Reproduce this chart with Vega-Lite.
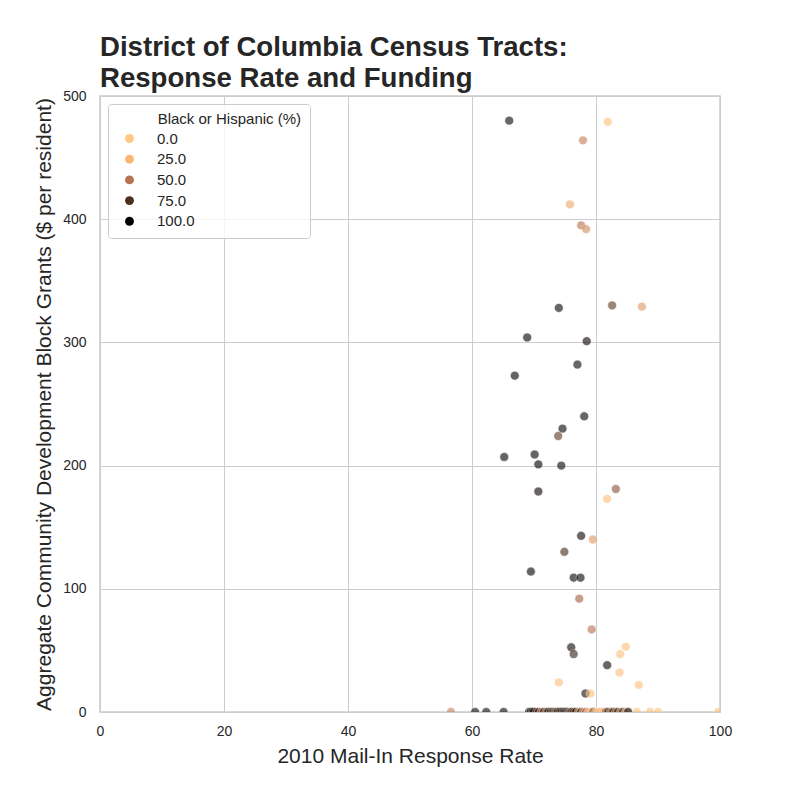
{
  "$schema": "https://vega.github.io/schema/vega-lite/v6.json",
  "width": 620,
  "height": 616,
  "autosize": "none",
  "padding": {"left": 100, "top": 96, "right": 80, "bottom": 88},
  "background": "white",
  "title": {
    "text": ["District of Columbia Census Tracts:", "Response Rate and Funding"],
    "anchor": "start",
    "frame": "group",
    "font": "Liberation Sans",
    "fontSize": 27.6,
    "fontWeight": "bold",
    "color": "#262626",
    "lineHeight": 31,
    "baseline": "bottom",
    "offset": 4,
    "dy": 36
  },
  "config": {
    "font": "Liberation Sans",
    "view": {"stroke": "#cccccc", "strokeWidth": 1.5},
    "axis": {
      "grid": true,
      "gridColor": "#cccccc",
      "gridWidth": 1,
      "domain": false,
      "ticks": false,
      "labelFont": "Liberation Sans",
      "labelFontSize": 14,
      "labelColor": "#262626",
      "labelFlush": false,
      "titleFont": "Liberation Sans",
      "titleFontSize": 21,
      "titleFontWeight": "normal",
      "titleColor": "#262626"
    }
  },
  "data": {
    "values": [
      {"rate": 66.0, "cdbg": 480, "bh": 95},
      {"rate": 81.9, "cdbg": 479, "bh": 10},
      {"rate": 77.9, "cdbg": 464, "bh": 45},
      {"rate": 75.8, "cdbg": 412, "bh": 30},
      {"rate": 77.6, "cdbg": 395, "bh": 50},
      {"rate": 78.4, "cdbg": 392, "bh": 40},
      {"rate": 74.0, "cdbg": 328, "bh": 95},
      {"rate": 82.6, "cdbg": 330, "bh": 70},
      {"rate": 87.4, "cdbg": 329, "bh": 35},
      {"rate": 68.9, "cdbg": 304, "bh": 97},
      {"rate": 78.5, "cdbg": 301, "bh": 95},
      {"rate": 77.0, "cdbg": 282, "bh": 95},
      {"rate": 66.9, "cdbg": 273, "bh": 96},
      {"rate": 78.1, "cdbg": 240, "bh": 95},
      {"rate": 74.6, "cdbg": 230, "bh": 95},
      {"rate": 73.9, "cdbg": 224, "bh": 70},
      {"rate": 65.2, "cdbg": 207, "bh": 97},
      {"rate": 70.1, "cdbg": 209, "bh": 96},
      {"rate": 70.7, "cdbg": 201, "bh": 97},
      {"rate": 74.4, "cdbg": 200, "bh": 95},
      {"rate": 83.2, "cdbg": 181, "bh": 60},
      {"rate": 81.8, "cdbg": 173, "bh": 10},
      {"rate": 70.7, "cdbg": 179, "bh": 96},
      {"rate": 77.6, "cdbg": 143, "bh": 95},
      {"rate": 79.5, "cdbg": 140, "bh": 35},
      {"rate": 74.9, "cdbg": 130, "bh": 75},
      {"rate": 69.5, "cdbg": 114, "bh": 97},
      {"rate": 76.4, "cdbg": 109, "bh": 95},
      {"rate": 77.5, "cdbg": 109, "bh": 95},
      {"rate": 77.3, "cdbg": 92, "bh": 55},
      {"rate": 79.3, "cdbg": 67, "bh": 50},
      {"rate": 76.0, "cdbg": 52.5, "bh": 95},
      {"rate": 76.4, "cdbg": 47, "bh": 80},
      {"rate": 84.8, "cdbg": 53, "bh": 12},
      {"rate": 83.9, "cdbg": 47, "bh": 10},
      {"rate": 81.8, "cdbg": 38, "bh": 95},
      {"rate": 83.8, "cdbg": 32, "bh": 12},
      {"rate": 74.0, "cdbg": 24, "bh": 10},
      {"rate": 86.9, "cdbg": 22, "bh": 12},
      {"rate": 78.3, "cdbg": 15, "bh": 90},
      {"rate": 79.1, "cdbg": 15, "bh": 15},
      {"rate": 56.6, "cdbg": 0, "bh": 45},
      {"rate": 60.5, "cdbg": 0, "bh": 95},
      {"rate": 62.3, "cdbg": 0, "bh": 95},
      {"rate": 65.1, "cdbg": 0, "bh": 95},
      {"rate": 69.2, "cdbg": 0, "bh": 99},
      {"rate": 69.5, "cdbg": 0, "bh": 97},
      {"rate": 69.8, "cdbg": 0, "bh": 98},
      {"rate": 70.0, "cdbg": 0, "bh": 95},
      {"rate": 70.4, "cdbg": 0, "bh": 60},
      {"rate": 70.8, "cdbg": 0, "bh": 90},
      {"rate": 71.2, "cdbg": 0, "bh": 40},
      {"rate": 71.6, "cdbg": 0, "bh": 96},
      {"rate": 72.0, "cdbg": 0, "bh": 50},
      {"rate": 72.3, "cdbg": 0, "bh": 92},
      {"rate": 72.7, "cdbg": 0, "bh": 80},
      {"rate": 73.0, "cdbg": 0, "bh": 96},
      {"rate": 73.2, "cdbg": 0, "bh": 97},
      {"rate": 73.4, "cdbg": 0, "bh": 40},
      {"rate": 73.8, "cdbg": 0, "bh": 98},
      {"rate": 74.1, "cdbg": 0, "bh": 95},
      {"rate": 74.3, "cdbg": 0, "bh": 96},
      {"rate": 74.5, "cdbg": 0, "bh": 70},
      {"rate": 74.8, "cdbg": 0, "bh": 99},
      {"rate": 75.0, "cdbg": 0, "bh": 98},
      {"rate": 75.2, "cdbg": 0, "bh": 96},
      {"rate": 75.4, "cdbg": 0, "bh": 90},
      {"rate": 75.6, "cdbg": 0, "bh": 45},
      {"rate": 76.0, "cdbg": 0, "bh": 92},
      {"rate": 76.2, "cdbg": 0, "bh": 95},
      {"rate": 76.4, "cdbg": 0, "bh": 60},
      {"rate": 76.8, "cdbg": 0, "bh": 98},
      {"rate": 77.2, "cdbg": 0, "bh": 30},
      {"rate": 77.6, "cdbg": 0, "bh": 85},
      {"rate": 78.0, "cdbg": 0, "bh": 35},
      {"rate": 78.4, "cdbg": 0, "bh": 55},
      {"rate": 78.8, "cdbg": 0, "bh": 25},
      {"rate": 79.2, "cdbg": 0, "bh": 20},
      {"rate": 79.6, "cdbg": 0, "bh": 70},
      {"rate": 80.0, "cdbg": 0, "bh": 15},
      {"rate": 80.4, "cdbg": 0, "bh": 10},
      {"rate": 80.8, "cdbg": 0, "bh": 30},
      {"rate": 81.2, "cdbg": 0, "bh": 12},
      {"rate": 81.6, "cdbg": 0, "bh": 60},
      {"rate": 82.0, "cdbg": 0, "bh": 90},
      {"rate": 82.4, "cdbg": 0, "bh": 40},
      {"rate": 82.8, "cdbg": 0, "bh": 95},
      {"rate": 83.2, "cdbg": 0, "bh": 50},
      {"rate": 83.6, "cdbg": 0, "bh": 92},
      {"rate": 84.0, "cdbg": 0, "bh": 35},
      {"rate": 84.4, "cdbg": 0, "bh": 94},
      {"rate": 84.8, "cdbg": 0, "bh": 10},
      {"rate": 85.2, "cdbg": 0, "bh": 96},
      {"rate": 86.6, "cdbg": 0, "bh": 8},
      {"rate": 88.7, "cdbg": 0, "bh": 10},
      {"rate": 90.0, "cdbg": 0, "bh": 8},
      {"rate": 99.7, "cdbg": 0, "bh": 8}
    ]
  },
  "mark": {"type": "circle", "size": 80, "opacity": 0.62, "stroke": "white", "strokeWidth": 0.6, "clip": true},
  "encoding": {
    "x": {
      "field": "rate",
      "type": "quantitative",
      "title": "2010 Mail-In Response Rate",
      "scale": {"domain": [0, 100], "nice": false, "zero": false},
      "axis": {"values": [0, 20, 40, 60, 80, 100], "labelPadding": 12, "titlePadding": 7}
    },
    "y": {
      "field": "cdbg",
      "type": "quantitative",
      "title": "Aggregate Community Development Block Grants ($ per resident)",
      "scale": {"domain": [0, 500], "nice": false},
      "axis": {"values": [0, 100, 200, 300, 400, 500], "labelPadding": 14, "titlePadding": 8}
    },
    "color": {
      "field": "bh",
      "type": "quantitative",
      "title": "\u200b\u00a0\u00a0\u00a0\u00a0\u00a0\u00a0\u00a0\u00a0\u00a0\u00a0Black or Hispanic (%)",
      "scale": {
        "domain": [0, 25, 50, 75, 100],
        "range": ["#ffc981", "#fbb676", "#b87350", "#4b2e1e", "#000000"],
        "interpolate": "rgb"
      },
      "legend": {
        "type": "symbol",
        "values": [0, 25, 50, 75, 100],
        "format": ".1f",
        "orient": "none",
        "legendX": 8,
        "legendY": 8,
        "padding": 8,
        "fillColor": "rgba(255,255,255,0.8)",
        "strokeColor": "#cccccc",
        "cornerRadius": 3,
        "symbolType": "circle",
        "symbolSize": 80,
        "symbolOpacity": 1,
        "symbolStrokeWidth": 0,
        "symbolOffset": 6,
        "labelOffset": 20,
        "labelFont": "Liberation Sans",
        "labelFontSize": 15,
        "labelColor": "#262626",
        "titleFont": "Liberation Sans",
        "titleFontSize": 15,
        "titleFontWeight": "normal",
        "titleColor": "#262626",
        "titleLimit": 400,
        "titlePadding": 4,
        "rowPadding": 4.7
      }
    }
  }
}
